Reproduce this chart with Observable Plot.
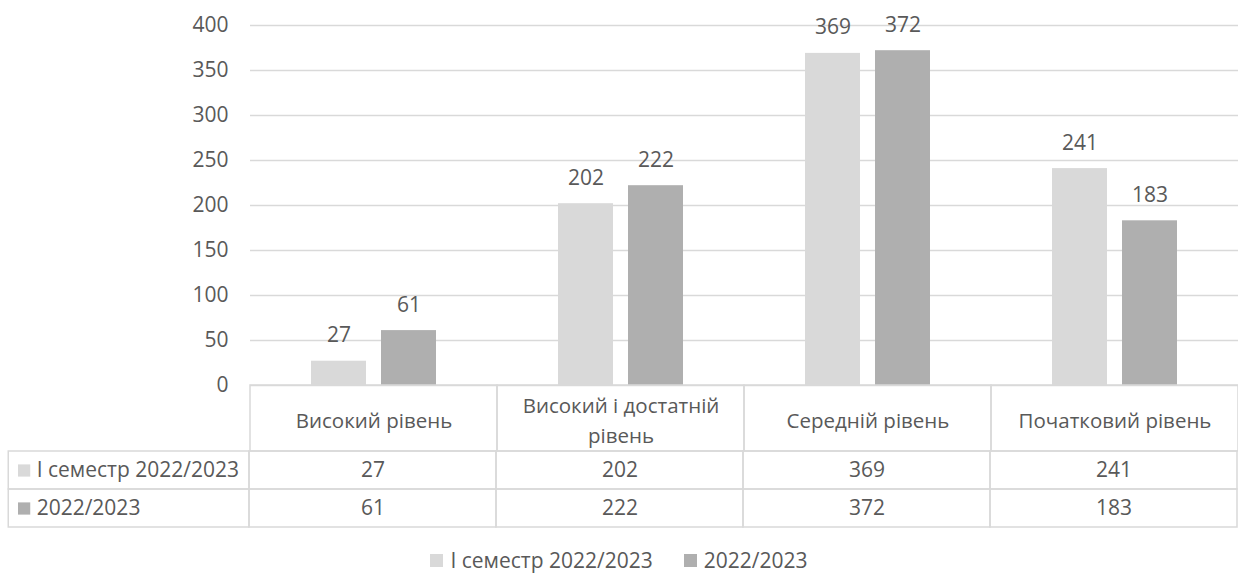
<!DOCTYPE html>
<html>
<head>
<meta charset="utf-8">
<script src="https://cdn.jsdelivr.net/npm/d3@7"></script>
<script src="https://cdn.jsdelivr.net/npm/@observablehq/plot@0.6"></script>
<style>
  html, body { margin: 0; padding: 0; background: #fff; overflow: hidden; }
  #wrap { position: relative; width: 1238px; height: 573px; font-family: "Open Sans", sans-serif; color: #595959; }
  #wrap > svg { position: absolute; left: 0; }
  .legend { position: absolute; left: 0; width: 1238px; display: flex; justify-content: center; align-items: center; gap: 31px; font-size: 21px; line-height: 26px; }
  .legend .item { display: flex; align-items: center; }
  .legend .sw { width: 13px; height: 13px; margin-right: 7px; display: inline-block; }
</style>
</head>
<body>
<div id="wrap"></div>
<script>
const categories = ["Високий рівень", "Високий і достатній рівень", "Середній рівень", "Початковий рівень"];
const categoryLabels = ["Високий рівень", "Високий і достатній\nрівень", "Середній рівень", "Початковий рівень"];
const seriesNames = ["І семестр 2022/2023", "2022/2023"];
const semester1 = [27, 202, 369, 241];
const year2022 = [61, 222, 372, 183];
const seriesColors = ["#d9d9d9", "#afafaf"];
const yTicks = [0, 50, 100, 150, 200, 250, 300, 350, 400];

const seriesValues = [semester1, year2022];
const data = [];
seriesNames.forEach((s, si) => categories.forEach((c, ci) => data.push({series: s, category: c, value: seriesValues[si][ci]})));

const textColor = "#595959";
const gridColor = "#d9d9d9";
const font = {fontFamily: "'Open Sans', sans-serif", fontSize: "21px", color: textColor, background: "none", overflow: "visible"};
const wrap = document.getElementById("wrap");

// main bar chart
const main = Plot.plot({
  width: 1238, height: 385,
  marginLeft: 249, marginRight: 0, marginTop: 25, marginBottom: 0,
  style: font,
  fx: {domain: categories, padding: 0, axis: null},
  x: {domain: seriesNames, paddingInner: 15 / 71, paddingOuter: 0.85, axis: null},
  y: {domain: [0, 400]},
  color: {domain: seriesNames, range: seriesColors},
  marks: [
    Plot.ruleY(yTicks, {stroke: gridColor, strokeWidth: 1.5}),
    Plot.barY(data, {fx: "category", x: "series", y: "value", fill: "series"}),
    Plot.text(data, {fx: "category", x: "series", y: "value", text: d => String(d.value), lineAnchor: "bottom", dy: -19, fill: textColor}),
    Plot.axisY({ticks: yTicks, tickSize: 0, tickPadding: 22, label: null, fill: textColor})
  ]
});
main.style.top = "0px";
wrap.appendChild(main);

// table header row (category names)
const header = Plot.plot({
  width: 1238, height: 68,
  marginLeft: 249, marginRight: 0, marginTop: 1, marginBottom: 1,
  style: {...font, fontSize: "20.5px"},
  x: {domain: categories, padding: 0, axis: null},
  marks: [
    Plot.cell(categories, {x: d => d, fill: "none", stroke: gridColor, strokeWidth: 1.5}),
    Plot.text(categories, {x: d => d, text: (d, i) => categoryLabels[i], lineHeight: 1.45, fill: textColor})
  ]
});
header.style.top = "384px";
wrap.appendChild(header);

// table data rows
const labelKey = "__label";
const step = (1238 - 249) / categories.length;
const rows = Plot.plot({
  width: 1238, height: 78,
  marginLeft: 0, marginRight: 0, marginTop: 1, marginBottom: 1,
  style: font,
  x: {domain: [labelKey, ...categories], range: [249 - step, 1238], padding: 0, axis: null},
  y: {domain: seriesNames, padding: 0, axis: null},
  color: {domain: seriesNames, range: seriesColors},
  marks: [
    Plot.cell(seriesNames, {x: () => labelKey, y: d => d, fill: "none", stroke: gridColor, strokeWidth: 1.5, insetLeft: 8 - (249 - step)}),
    Plot.cell(data, {x: "category", y: "series", fill: "none", stroke: gridColor, strokeWidth: 1.5}),
    Plot.dot(seriesNames, {x: () => labelKey, y: d => d, symbol: "square", r: 6.9, fill: d => d, stroke: null, dx: 23.5 - (249 - step / 2)}),
    Plot.text(seriesNames, {x: () => labelKey, y: d => d, text: d => d, textAnchor: "start", dx: 36 - (249 - step / 2), fill: textColor}),
    Plot.text(data, {x: "category", y: "series", text: d => String(d.value), fill: textColor})
  ]
});
rows.style.top = "450px";
wrap.appendChild(rows);

// legend
const legend = document.createElement("div");
legend.className = "legend";
legend.style.top = "547px";
seriesNames.forEach((s, i) => {
  const item = document.createElement("div");
  item.className = "item";
  const sw = document.createElement("span");
  sw.className = "sw";
  sw.style.background = seriesColors[i];
  const t = document.createElement("span");
  t.textContent = s;
  item.appendChild(sw);
  item.appendChild(t);
  legend.appendChild(item);
});
wrap.appendChild(legend);
</script>
</body>
</html>
